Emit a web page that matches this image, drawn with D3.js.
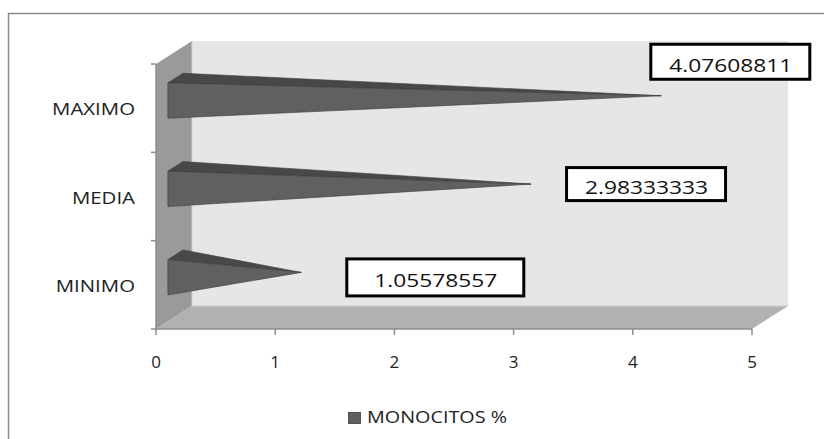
<!DOCTYPE html>
<html>
<head>
<meta charset="utf-8">
<script src="https://cdn.jsdelivr.net/npm/d3@7"></script>
<style>
  body { margin: 0; background: #fff; }
  text { font-family: 'Open Sans', 'Liberation Sans', sans-serif; }
</style>
</head>
<body>
<div id="chart"></div>
<script>
// data
const categories = ['MAXIMO', 'MEDIA', 'MINIMO'];
const values = [4.07608811, 2.98333333, 1.05578557];
const valueLabels = ['4.07608811', '2.98333333', '1.05578557'];
const xTicks = [0, 1, 2, 3, 4, 5];
const seriesName = 'MONOCITOS %';

// where each data label box sits, relative to the bar tip (hand placed, like in the original)
const labelDx = [69, 115, 134];
const labelDy = [-34, 0, 5];
const labelW = [162, 162, 180];
const labelH = [38, 36, 40];

const drawChart = () => {
  let width = 824;
  let height = 439;

  // 3d depth offset of the back wall
  let DX = 36;
  let DY = -23;

  let svg = d3
    .select('#chart')
    .append('svg')
    .attr('width', width)
    .attr('height', height);

  let x = d3.scaleLinear().domain([0, 5]).range([156, 752]);
  let y = d3.scaleBand().domain(categories).range([64, 329]);

  let x0 = x(0);
  let x1 = x(5);
  let yTop = y.range()[0];
  let yBot = y.range()[1];

  // outer frame
  svg
    .append('path')
    .attr('d', `M8.5,${height} L8.5,13.5 L${width},13.5`)
    .attr('fill', 'none')
    .attr('stroke', '#8a8a8a')
    .attr('stroke-width', 1.5);

  let pts = (arr) => arr.map((p) => p.join(',')).join(' ');

  // back wall
  svg
    .append('polygon')
    .attr('points', pts([[x0 + DX, yTop + DY], [x1 + DX, yTop + DY], [x1 + DX, yBot + DY], [x0 + DX, yBot + DY]]))
    .attr('fill', '#e6e6e6');

  // left wall
  svg
    .append('polygon')
    .attr('points', pts([[x0, yTop], [x0 + DX, yTop + DY], [x0 + DX, yBot + DY], [x0, yBot]]))
    .attr('fill', '#9a9a9a');

  // floor
  svg
    .append('polygon')
    .attr('points', pts([[x0, yBot], [x1, yBot], [x1 + DX, yBot + DY], [x0 + DX, yBot + DY]]))
    .attr('fill', '#b1b1b1');

  // light edges between the walls
  svg
    .append('path')
    .attr('d', `M${x0 + DX},${yTop + DY} L${x0 + DX},${yBot + DY} L${x1 + DX},${yBot + DY}`)
    .attr('fill', 'none')
    .attr('stroke', '#d0d0d0')
    .attr('stroke-width', 1);

  // axes
  let axisColor = '#8c8c8c';
  svg
    .append('line')
    .attr('x1', x0).attr('x2', x0)
    .attr('y1', yTop).attr('y2', yBot)
    .attr('stroke', axisColor).attr('stroke-width', 1.5);

  let yTickPos = categories.map((c) => y(c)).concat([yBot]);
  svg
    .selectAll('.ytick')
    .data(yTickPos)
    .enter()
    .append('line')
    .attr('x1', x0 - 5).attr('x2', x0)
    .attr('y1', (d) => d).attr('y2', (d) => d)
    .attr('stroke', axisColor).attr('stroke-width', 1.5);

  svg
    .append('line')
    .attr('x1', x0).attr('x2', x1)
    .attr('y1', yBot).attr('y2', yBot)
    .attr('stroke', axisColor).attr('stroke-width', 1.5);

  svg
    .selectAll('.xtick')
    .data(xTicks)
    .enter()
    .append('line')
    .attr('x1', (d) => x(d)).attr('x2', (d) => x(d))
    .attr('y1', yBot).attr('y2', yBot + 6)
    .attr('stroke', axisColor).attr('stroke-width', 1.5);

  svg
    .selectAll('.xlabel')
    .data(xTicks)
    .enter()
    .append('text')
    .attr('x', (d) => x(d))
    .attr('y', 368)
    .attr('text-anchor', 'middle')
    .attr('font-size', 17)
    .attr('fill', '#222')
    .text((d) => d);

  // category labels
  svg
    .selectAll('.ylabel')
    .data(categories)
    .enter()
    .append('text')
    .attr('transform', (d) => `translate(135,${y(d) + y.bandwidth() / 2 + 7}) scale(1.2,1)`)
    .attr('text-anchor', 'end')
    .attr('font-size', 17)
    .attr('fill', '#222')
    .text((d) => d);

  // pyramid bars
  let d0 = 0.33;
  let d1 = 0.75;
  let dm = (d0 + d1) / 2;
  let half = y.bandwidth() * 0.2;

  let bars = categories.map((c, i) => {
    let cy = y(c) + y.bandwidth() / 2;
    let ft = [x0 + DX * d0, cy - half + DY * d0];
    let fb = [x0 + DX * d0, cy + half + DY * d0];
    let bt = [x0 + DX * d1, cy - half + DY * d1];
    let tip = [x(values[i]) + DX * dm, cy + DY * dm];
    return { c, i, cy, ft, fb, bt, tip };
  });

  let barG = svg.selectAll('.bar').data(bars).enter().append('g').attr('class', 'bar');

  barG
    .append('polygon')
    .attr('points', (d) => pts([d.ft, d.bt, d.tip]))
    .attr('fill', '#484848')
    .attr('stroke', '#3c3c3c')
    .attr('stroke-width', 0.6)
    .attr('stroke-linejoin', 'round');

  barG
    .append('polygon')
    .attr('points', (d) => pts([d.ft, d.fb, d.tip]))
    .attr('fill', '#606060')
    .attr('stroke', '#3c3c3c')
    .attr('stroke-width', 0.6)
    .attr('stroke-linejoin', 'round');

  // data labels
  let lab = svg.selectAll('.dlabel').data(bars).enter().append('g').attr('class', 'dlabel');

  lab
    .append('rect')
    .attr('x', (d) => d.tip[0] + labelDx[d.i] - labelW[d.i] / 2 + 1.5)
    .attr('y', (d) => d.tip[1] + labelDy[d.i] - labelH[d.i] / 2 + 1.5)
    .attr('width', (d) => labelW[d.i] - 3)
    .attr('height', (d) => labelH[d.i] - 3)
    .attr('fill', '#fff')
    .attr('stroke', '#000')
    .attr('stroke-width', 3);

  lab
    .append('text')
    .attr('x', (d) => d.tip[0] + labelDx[d.i] - 61)
    .attr('y', (d) => d.tip[1] + labelDy[d.i] + 10)
    .attr('font-size', 18)
    .attr('fill', '#111')
    .attr('textLength', 123)
    .attr('lengthAdjust', 'spacingAndGlyphs')
    .text((d) => valueLabels[d.i]);

  // legend
  let legend = svg.append('g').attr('class', 'legend');
  legend
    .append('rect')
    .attr('x', 348.5)
    .attr('y', 412.5)
    .attr('width', 12)
    .attr('height', 11)
    .attr('fill', '#606060')
    .attr('stroke', '#3c3c3c')
    .attr('stroke-width', 0.8);
  legend
    .append('text')
    .attr('x', 367)
    .attr('y', 423)
    .attr('font-size', 16)
    .attr('fill', '#222')
    .attr('textLength', 140)
    .attr('lengthAdjust', 'spacingAndGlyphs')
    .text(seriesName);
};

drawChart();
</script>
</body>
</html>
